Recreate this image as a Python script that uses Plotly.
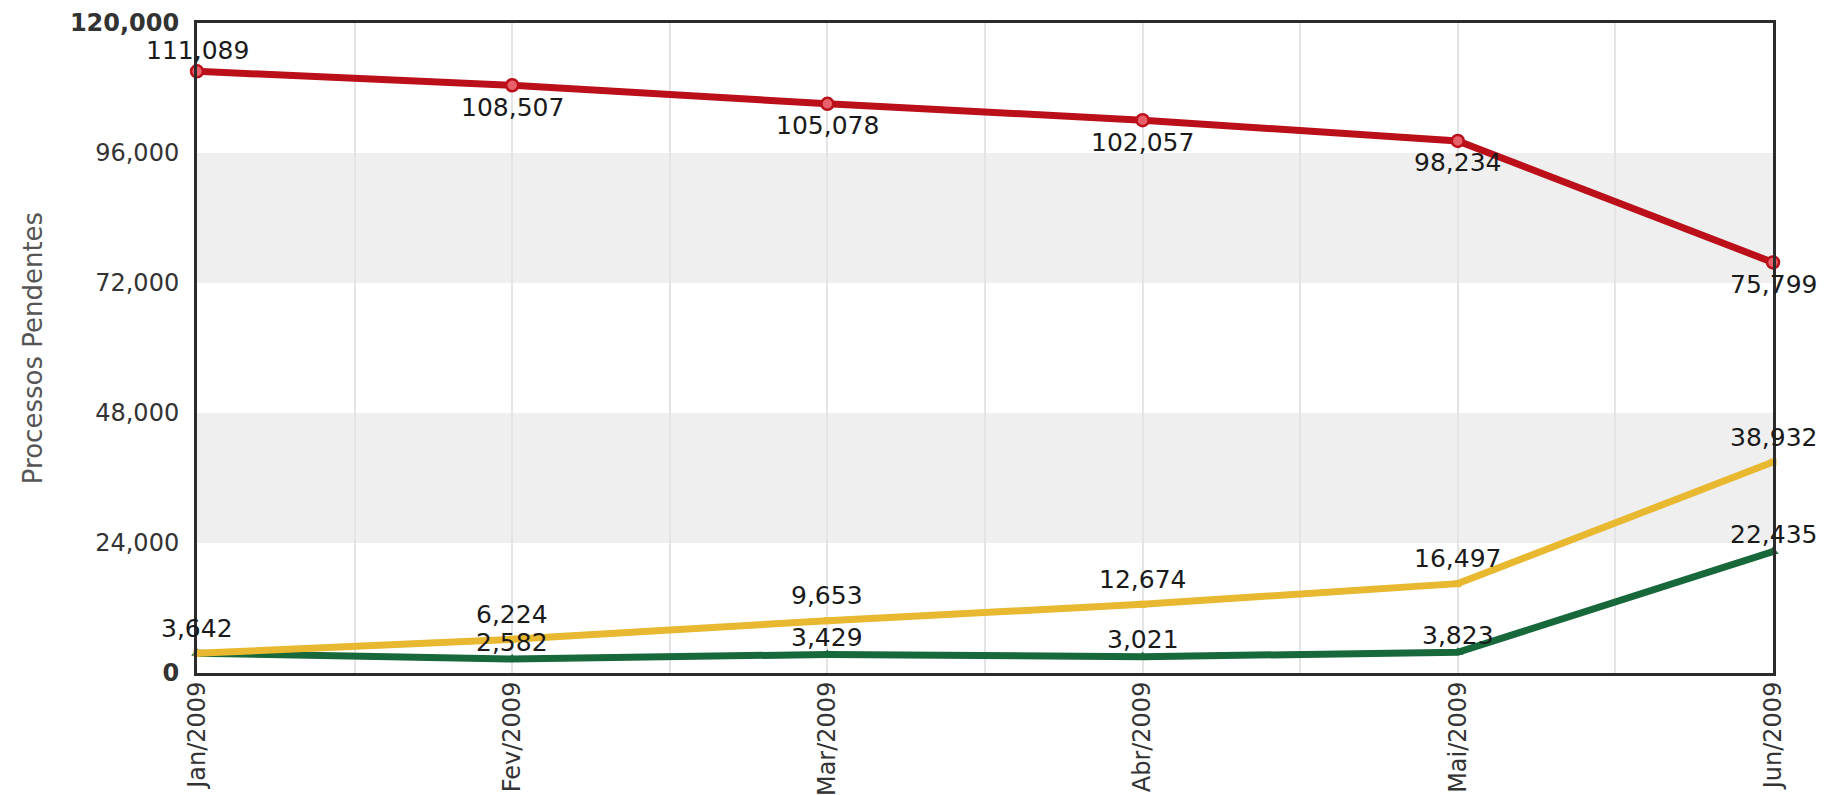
import plotly.graph_objects as go

months = ["Jan/2009", "Fev/2009", "Mar/2009", "Abr/2009", "Mai/2009", "Jun/2009"]
red_vals = [111089, 108507, 105078, 102057, 98234, 75799]
yellow_vals = [3642, 6224, 9653, 12674, 16497, 38932]
green_vals = [3642, 2582, 3429, 3021, 3823, 22435]
y_ticks = [0, 24000, 48000, 72000, 96000, 120000]
y_title = "Processos Pendentes"

x = list(range(len(months)))
FONT = "DejaVu Sans"
LBL = 25

RED = "#bb0f1a"
YEL = "#e8b830"
GRN = "#17683a"

def fmt(v):
    return f"{v:,}"

fig = go.Figure()

# gray bands between alternate ticks
shapes = []
for i in range(1, len(y_ticks) - 1, 2):
    shapes.append(dict(type="rect", xref="paper", yref="y", x0=0, x1=1,
                       y0=y_ticks[i], y1=y_ticks[i + 1],
                       fillcolor="#efefef", line=dict(width=0), layer="below"))

fig.add_trace(go.Scatter(
    x=x, y=green_vals, mode="lines+markers",
    line=dict(color=GRN, width=7),
    marker=dict(symbol="triangle-up", size=10, color=GRN),
    cliponaxis=False, showlegend=False, hoverinfo="skip"))

fig.add_trace(go.Scatter(
    x=x, y=yellow_vals, mode="lines+markers",
    line=dict(color=YEL, width=7),
    marker=dict(symbol="square", size=7, color=YEL),
    cliponaxis=False, showlegend=False, hoverinfo="skip"))

fig.add_trace(go.Scatter(
    x=x, y=red_vals, mode="lines+markers",
    line=dict(color=RED, width=7),
    marker=dict(symbol="circle", size=12, color="#e8606a", line=dict(width=2.5, color=RED)),
    cliponaxis=False, showlegend=False, hoverinfo="skip"))

annotations = []
lf = dict(family=FONT, size=LBL, color="#1a1a1a")
for i, v in enumerate(red_vals):
    annotations.append(dict(x=x[i], y=v, xref="x", yref="y", text=fmt(v),
                            showarrow=False, font=lf,
                            yshift=21 if i == 0 else -22))
for i, v in enumerate(yellow_vals):
    annotations.append(dict(x=x[i], y=v, xref="x", yref="y", text=fmt(v),
                            showarrow=False, font=lf, yshift=25))
for i, v in enumerate(green_vals):
    if v == yellow_vals[i]:
        continue  # same point and same label as the yellow series
    annotations.append(dict(x=x[i], y=v, xref="x", yref="y", text=fmt(v),
                            showarrow=False, font=lf, yshift=17))

ytext = []
for i, v in enumerate(y_ticks):
    s = fmt(v)
    if i == 0 or i == len(y_ticks) - 1:
        s = f"<b>{s}</b>"
    ytext.append(s)

fig.update_layout(
    width=1827, height=795,
    margin=dict(l=197, r=54, t=23, b=122),
    paper_bgcolor="white", plot_bgcolor="white",
    font=dict(family=FONT, size=24, color="#333"),
    shapes=shapes,
    annotations=annotations,
    xaxis=dict(range=[0, len(months) - 1], tickmode="array", tickvals=x, ticktext=months,
               tickangle=-90, showgrid=True, gridcolor="#e4e4e4", gridwidth=1.5,
               minor=dict(tickmode="linear", tick0=0, dtick=0.5, showgrid=True,
                          gridcolor="#e4e4e4", gridwidth=1.5),
               showline=True, linecolor="#2b2b2b", linewidth=3, mirror=True,
               ticks="", zeroline=False, automargin=False, ticklabelstandoff=-4,
               tickfont=dict(family=FONT, size=24, color="#333")),
    yaxis=dict(range=[0, 120000], tickmode="array", tickvals=y_ticks, ticktext=ytext,
               showgrid=False, zeroline=False, automargin=False,
               showline=True, linecolor="#2b2b2b", linewidth=3, mirror=True,
               ticks="", ticklabelstandoff=10,
               tickfont=dict(family=FONT, size=24, color="#333"),
               title=dict(text=y_title, standoff=20,
                          font=dict(family=FONT, size=26, color="#555"))),
)

fig.write_html("out.html", config={"displayModeBar": False},
               post_script="document.body.style.margin='0';document.body.style.overflow='hidden';")
